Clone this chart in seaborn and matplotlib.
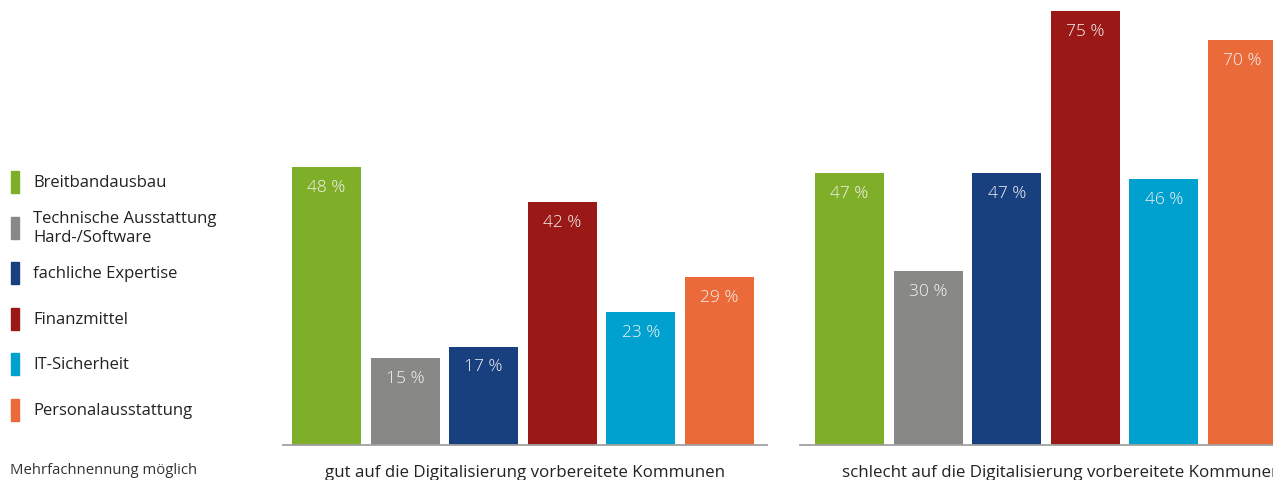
import pandas as pd
import matplotlib.pyplot as plt
import seaborn as sns

# Daten
kategorien = ["Breitbandausbau", "Technische Ausstattung\nHard-/Software", "fachliche Expertise",
              "Finanzmittel", "IT-Sicherheit", "Personalausstattung"]
werte_gut = [48, 15, 17, 42, 23, 29]
werte_schlecht = [47, 30, 47, 75, 46, 70]
gruppen = ["gut auf die Digitalisierung vorbereitete Kommunen",
           "schlecht auf die Digitalisierung vorbereitete Kommunen"]
farben = ["#7fae28", "#888886", "#18407e", "#9a1916", "#00a0cf", "#ea6a39"]

sns.set_style("white")
plt.rcParams['font.family'] = ['Open Sans', 'DejaVu Sans']

W, H = 1273, 481
fig = plt.figure(figsize=(W / 100, H / 100), dpi=100)

def px_box(x0, x1, y_top, y_bot):
    # Pixelangaben -> Figure-Koordinaten
    return [x0 / W, 1 - y_bot / H, (x1 - x0) / W, (y_bot - y_top) / H]

ax1 = fig.add_axes(px_box(283, 767, 0, 446))
ax2 = fig.add_axes(px_box(800, 1273, 0, 446))

def zeichne_gruppe(ax, werte, titel, xlim, titel_x):
    df = pd.DataFrame({"kategorie": kategorien, "wert": werte})
    sns.barplot(data=df, x="kategorie", y="wert", hue="kategorie", palette=farben,
                legend=False, width=0.878, saturation=1, linewidth=0, ax=ax)
    for c in ax.containers:
        ax.bar_label(c, fmt="{:.0f} %", padding=-20, color="#f4f4f4", fontsize=12.5,
                     fontweight="light")
    ax.set_xlim(*xlim)
    ax.set_ylim(0, 77.07)
    for s in ["top", "left", "right"]:
        ax.spines[s].set_visible(False)
    ax.spines["bottom"].set_color("#a0a0a0")
    ax.spines["bottom"].set_linewidth(1.3)
    ax.set_xticks([])
    ax.set_yticks([])
    ax.set_xlabel("")
    ax.set_ylabel("")
    fig.text(titel_x / W, 1 - 477 / H, titel, ha="center", va="baseline",
             fontsize=12.2, color="#222222")

zeichne_gruppe(ax1, werte_gut, gruppen[0], (-0.553, 5.605), 525)
zeichne_gruppe(ax2, werte_schlecht, gruppen[1], (-0.63, 5.388), 1062)

# Legende links
for i, (kat, farbe) in enumerate(zip(kategorien, farben)):
    y = 183 + 45.6 * i
    fig.patches.append(plt.Rectangle((11 / W, 1 - (y + 11) / H), 8 / W, 22 / H,
                                     transform=fig.transFigure, color=farbe))
    fig.text(33 / W, 1 - y / H, kat, ha="left", va="center", fontsize=12,
             color="#222222", linespacing=1.25)

fig.text(10 / W, 1 - 471 / H, "Mehrfachnennung möglich", ha="left", va="center",
         fontsize=10.7, color="#333333")

fig.savefig("out.png", dpi=100)
